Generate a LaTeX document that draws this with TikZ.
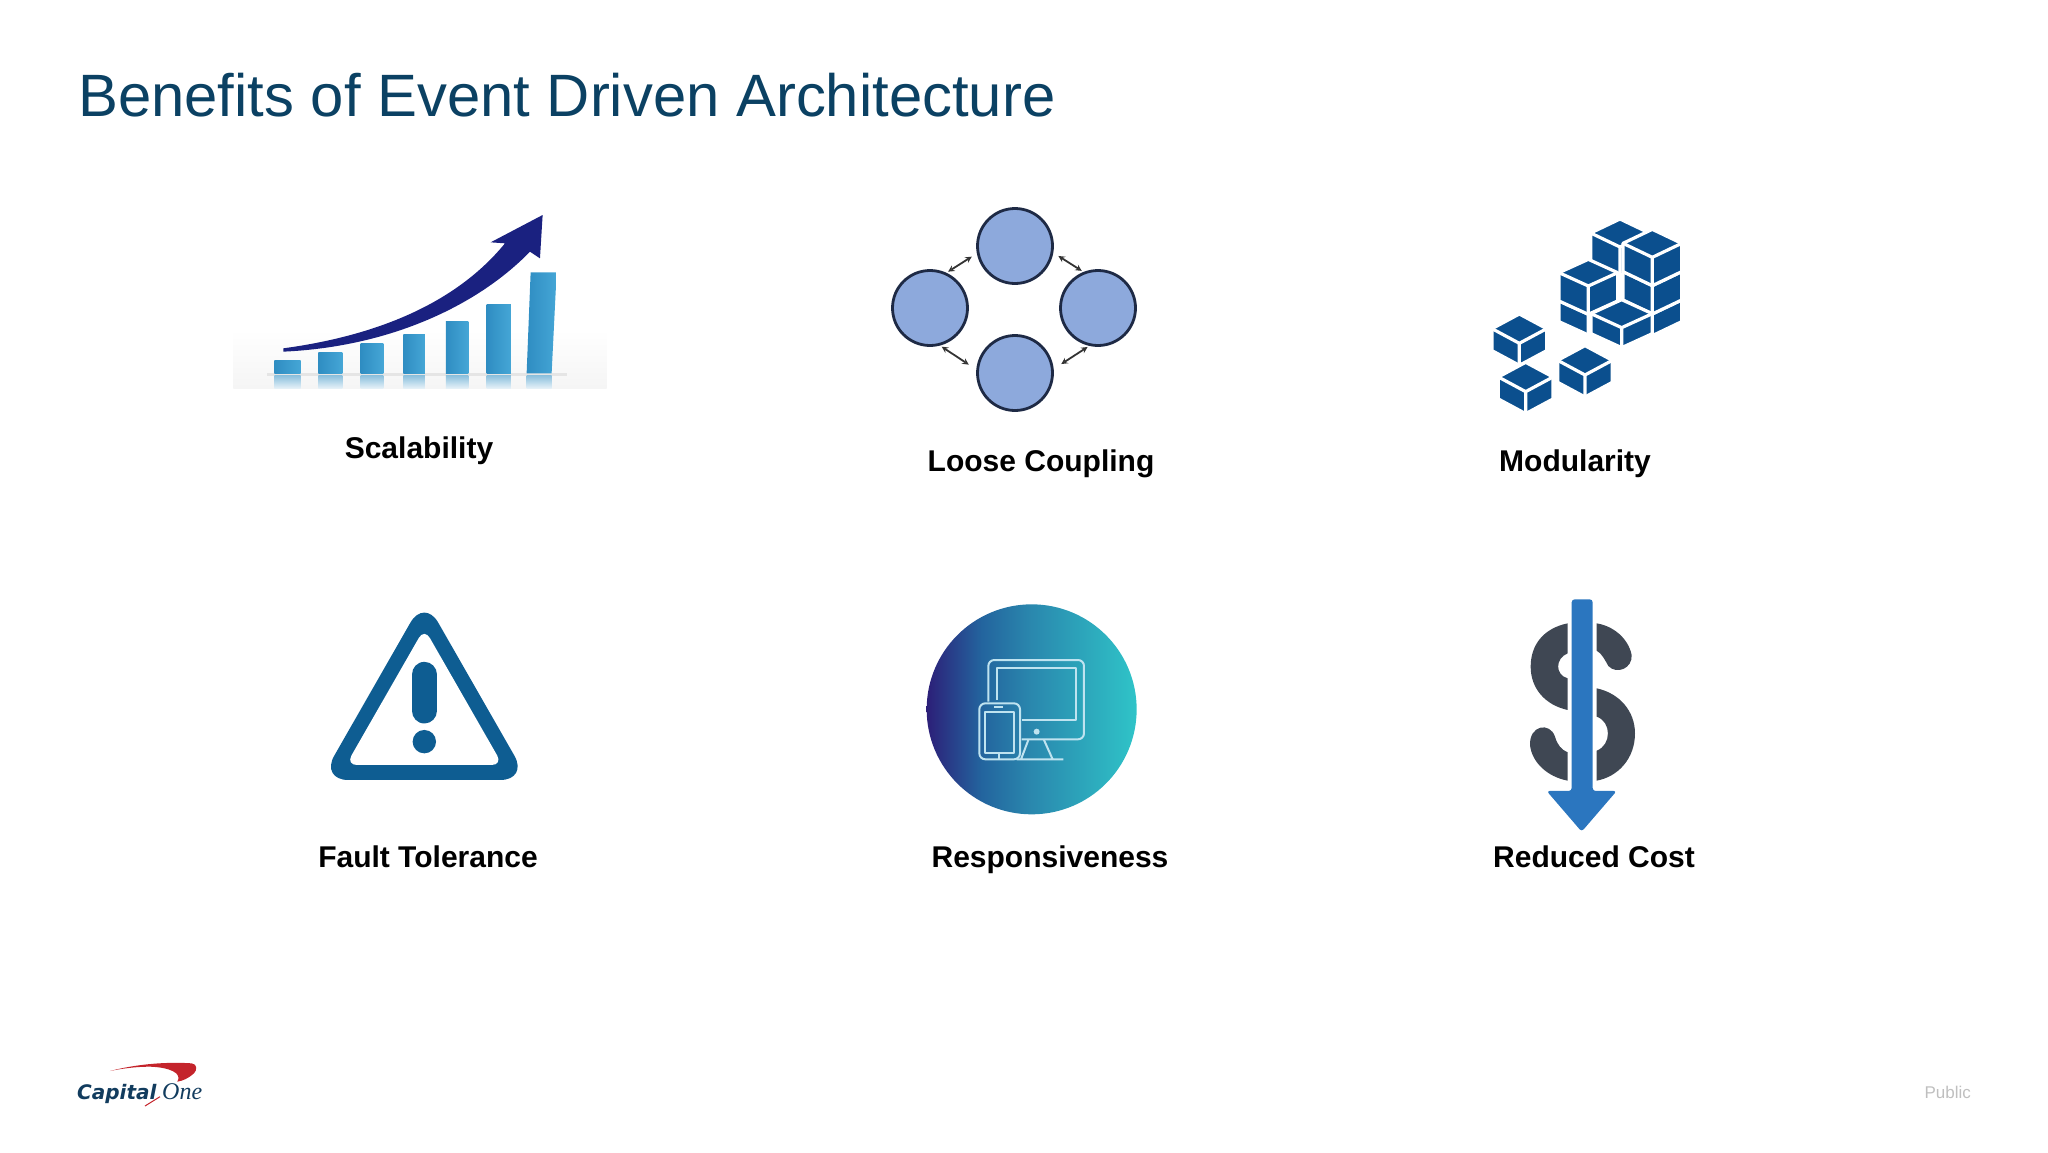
\documentclass[tikz,border=0pt]{standalone}
\usepackage{fontspec}
\setmainfont{Liberation Sans}
\newfontfamily\oneserif{Liberation Serif}
\newfontfamily\capheavy{DejaVu Sans}
\definecolor{titleblue}{HTML}{0B4163}
\definecolor{barblue}{HTML}{2F8DC2}
\definecolor{barlight}{HTML}{45A6D6}
\definecolor{arrownavy}{HTML}{1A2180}
\definecolor{hubfill}{HTML}{8DA9DC}
\definecolor{hubline}{HTML}{1E2A45}
\definecolor{cubeblue}{HTML}{0B4F8E}
\definecolor{warnblue}{HTML}{0E5D92}
\definecolor{dialdark}{HTML}{2C1F78}
\definecolor{dialnext}{HTML}{23649E}
\definecolor{dialmid}{HTML}{2A88AE}
\definecolor{diallight}{HTML}{2FC4C8}
\definecolor{screenline}{HTML}{BFE3F0}
\definecolor{dollargray}{HTML}{3F4753}
\definecolor{costblue}{HTML}{2B76BF}
\definecolor{logored}{HTML}{C4242B}
\definecolor{lognavy}{HTML}{123C5E}
\pgfdeclarehorizontalshading{dialshade}{100bp}{color(0bp)=(dialdark); color(25bp)=(dialdark); color(38bp)=(dialnext); color(50bp)=(dialmid); color(75bp)=(diallight); color(100bp)=(diallight)}
\tikzset{
	iconat/.style 2 args={shift={(#1,#2)},x=0.3333pt,y=-0.3333pt},
	hublabel/.style={font=\bfseries\fontsize{30}{36}\selectfont,anchor=base,inner sep=0pt},
	hubcircle/.style={circle,draw=hubline,fill=hubfill,line width=2.8pt,minimum size=75pt,inner sep=0pt},
	hublink/.style={<->,draw=black!80,line width=1.8pt,shorten <=6pt,shorten >=2pt},
	screenstroke/.style={draw=screenline,line width=2pt}
}
% one block of the modularity icon: centre x, centre y, half width, rise, height
\newcommand{\blockcube}[5]{
	\fill[cubeblue,draw=white,line width=3.2pt] (#1,#2-2*#4) -- (#1+#3,#2-#4) -- (#1+#3,#2-#4+#5) -- (#1,#2+#5) -- (#1-#3,#2-#4+#5) -- (#1-#3,#2-#4) -- cycle;
	\draw[white,line width=3.2pt] (#1-#3,#2-#4) -- (#1,#2) -- (#1+#3,#2-#4) (#1,#2) -- (#1,#2+#5);
}
\begin{document}
\begin{tikzpicture}[x=1pt,y=-1pt,line join=round,>=stealth]
	\useasboundingbox (0,0) rectangle (2048,1152);
	\node[anchor=base west,inner sep=0pt,text=titleblue,font=\fontsize{59.8}{72}\selectfont] (title) at (78,116) {Benefits of Event Driven Architecture};
	% Scalability
	\begin{scope}[iconat={220}{190}]
		\shade[top color=white,bottom color=black!4] (40,420) rectangle (1160,595);
		\fill[black!10] (140,548) rectangle (1040,557);
		\foreach \xa/\xb/\ytop in {163/242/513,295/367/487,422/490/460,550/615/434,678/745/396,800/873/344} {
			\shade[left color=barblue,right color=barlight] (\xa,\ytop) rectangle (\xb,550);
			\shade[top color=barblue!55,bottom color=barblue!12] (\xa,557) rectangle (\xb,595);
		}
		\shade[left color=barblue,right color=barlight] (932,247) -- (1010,247) -- (995,550) -- (920,550) -- cycle;
		\shade[top color=barblue!55,bottom color=barblue!12] (920,557) rectangle (995,595);
		\fill[arrownavy] (190,475) .. controls (450,440) and (700,350) .. (855,160) -- (812,157) -- (968,75) -- (960,205) -- (930,185) .. controls (780,340) and (520,470) .. (190,485) -- cycle;
	\end{scope}
	\node[hublabel] (scalability) at (419,458) {Scalability};
	% Loose Coupling
	\node[hubcircle] (hubtop) at (1015,246) {};
	\node[hubcircle] (hubleft) at (930,308) {};
	\node[hubcircle] (hubright) at (1098,308) {};
	\node[hubcircle] (hubbottom) at (1015,373) {};
	\draw[hublink] (hubtop.191) -- (hubleft.65);
	\draw[hublink] (hubtop.350) -- (hubright.112);
	\draw[hublink,shorten <=2pt,shorten >=9pt] (hubleft.285) -- (hubbottom.175);
	\draw[hublink,shorten <=9pt] (hubbottom.6) -- (hubright.257);
	\node[hublabel] (loose) at (1041,471) {Loose Coupling};
	% Modularity
	\begin{scope}[iconat={1480}{200}]
		\blockcube{420}{141}{88}{42}{85}
		\blockcube{517}{342}{88}{42}{65}
		\blockcube{517}{257}{88}{42}{85}
		\blockcube{517}{172}{88}{42}{85}
		\blockcube{325}{343}{88}{40}{62}
		\blockcube{325}{258}{88}{40}{85}
		\blockcube{425}{383}{92}{42}{60}
		\blockcube{118}{430}{82}{44}{66}
		\blockcube{137}{575}{82}{44}{66}
		\blockcube{315}{525}{82}{44}{66}
	\end{scope}
	\node[hublabel] (modularity) at (1575,471) {Modularity};
	% Fault Tolerance
	\begin{scope}[iconat={310}{600}]
		\fill[warnblue,rounded corners=28pt] (31,540) -- (343,-5) -- (655,540) -- cycle;
		\fill[white,rounded corners=11pt] (108,495) -- (343,85) -- (578,495) -- cycle;
		\draw[warnblue,line width=25.6pt,line cap=round] (343,224) -- (343,332);
		\fill[warnblue] (343,425) circle (11.7pt);
	\end{scope}
	\node[hublabel] (fault) at (428,867) {Fault Tolerance};
	% Responsiveness
	\begin{scope}[iconat={920}{600}]
		\shade[shading=dialshade] (335,328) circle (105pt);
		\draw[screenstroke,rounded corners=6pt] (205,305) -- (205,180) -- (492,180) -- (492,418) -- (305,418);
		\draw[screenstroke] (230,300) -- (230,205) -- (468,205) -- (468,360) -- (305,360);
		\fill[screenline] (350,395) circle (3pt);
		\draw[screenstroke] (325,420) -- (303,478) (372,420) -- (398,478) (290,478) -- (430,478);
		\draw[screenstroke,rounded corners=6pt] (178,310) rectangle (300,478);
		\draw[screenstroke] (195,335) rectangle (283,458);
		\fill[screenline] (222,317) rectangle (250,325);
		\fill[screenline] (233,460) rectangle (241,476);
	\end{scope}
	\node[hublabel] (responsive) at (1050,867) {Responsiveness};
	% Reduced Cost
	\begin{scope}[iconat={1500}{590}]
		\fill[dollargray] (203,100) .. controls (130,115) and (92,165) .. (92,230) .. controls (92,295) and (135,345) .. (203,360) -- (203,265) .. controls (165,255) and (165,205) .. (203,190) -- cycle;
		\fill[dollargray] (290,100) .. controls (340,108) and (385,145) .. (395,195) .. controls (398,235) and (350,255) .. (325,228) .. controls (315,210) and (305,190) .. (290,182) -- cycle;
		\fill[dollargray] (290,295) .. controls (360,310) and (405,365) .. (405,430) .. controls (405,505) and (355,560) .. (290,572) -- (290,482) .. controls (335,465) and (335,395) .. (290,380) -- cycle;
		\fill[dollargray] (203,572) .. controls (140,560) and (95,515) .. (90,465) .. controls (88,405) and (150,395) .. (165,440) .. controls (172,465) and (185,480) .. (203,487) -- cycle;
		\fill[costblue,rounded corners=3pt] (215,28) -- (278,28) -- (278,603) -- (350,603) -- (245,725) -- (140,603) -- (215,603) -- cycle;
	\end{scope}
	\node[hublabel] (cost) at (1594,867) {Reduced Cost};
	% logo
	\begin{scope}[iconat={60}{1050}]
		\fill[logored] (150,63) .. controls (230,42) and (320,35) .. (395,40) .. controls (412,42) and (412,60) .. (402,70) .. controls (385,85) and (370,92) .. (352,95) .. controls (368,70) and (330,52) .. (270,50) .. controls (225,50) and (185,56) .. (150,63) -- cycle;
		\draw[logored,line width=1pt] (255,168) -- (300,140);
	\end{scope}
	\node[anchor=base west,inner sep=0pt,text=lognavy,font=\capheavy\bfseries\itshape\fontsize{20}{24}\selectfont] (logocapital) at (77,1099) {Capital};
	\node[anchor=base west,inner sep=0pt,text=lognavy,font=\oneserif\itshape\fontsize{24}{28}\selectfont] (logoone) at (162,1099) {One};
	\node[anchor=base east,inner sep=0pt,text=black!25,font=\fontsize{17}{20}\selectfont] (public) at (1971,1098) {Public};
\end{tikzpicture}
\end{document}
